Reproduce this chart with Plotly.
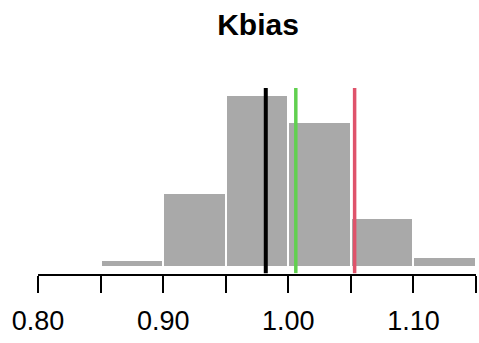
import plotly.graph_objects as go

# Histogram of Kbias: bin edges and counts per bin
bin_edges = [0.85, 0.90, 0.95, 1.00, 1.05, 1.10, 1.15]
counts = [3, 30, 70, 59, 20, 4]

# Reference values marked with vertical lines
ref_values = [0.982, 1.006, 1.053]
ref_colors = ["#000000", "#61D04F", "#DF536B"]
ref_widths = [4, 3.5, 3.5]

# Axis ticks
tick_vals = [0.80, 0.85, 0.90, 0.95, 1.00, 1.05, 1.10, 1.15]
tick_text = ["0.80", "", "0.90", "", "1.00", "", "1.10", ""]

centers = [(a + b) / 2 for a, b in zip(bin_edges[:-1], bin_edges[1:])]
widths = [b - a for a, b in zip(bin_edges[:-1], bin_edges[1:])]

fig = go.Figure()
fig.add_trace(go.Bar(
    x=centers, y=counts, width=widths,
    marker=dict(color="#A9A9A9", line=dict(color="white", width=2)),
    hoverinfo="skip",
))

shapes = []
for v, c, w in zip(ref_values, ref_colors, ref_widths):
    shapes.append(dict(type="line", xref="x", yref="paper", x0=v, x1=v,
                       y0=0.01, y1=1, line=dict(color=c, width=w)))
# axis line spanning the tick range only
shapes.append(dict(type="line", xref="x", yref="paper", x0=tick_vals[0], x1=tick_vals[-1],
                   y0=0, y1=0, line=dict(color="black", width=2)))

ymax = max(counts)
fig.update_layout(
    width=479, height=343,
    margin=dict(l=0, r=0, t=88, b=68),
    paper_bgcolor="white", plot_bgcolor="white",
    showlegend=False,
    bargap=0,
    shapes=shapes,
    font=dict(family="Liberation Sans, Arial, sans-serif", color="black"),
    title=dict(text="<b>Kbias</b>", x=258 / 479, xanchor="center",
               y=1 - 24 / 343, yanchor="middle", yref="container",
               font=dict(size=30, color="black")),
    xaxis=dict(range=[0.7696, 1.1524], tickmode="array", tickvals=tick_vals,
               ticktext=tick_text, ticks="outside", ticklen=17, tickwidth=2,
               tickcolor="black", showgrid=False, zeroline=False, showline=False,
               ticklabelstandoff=5,
               tickfont=dict(size=27, color="black")),
    yaxis=dict(range=[-0.0447 * ymax * 1.04, ymax * 1.04], visible=False,
               showgrid=False, zeroline=False),
)

fig.write_html("out.html")
